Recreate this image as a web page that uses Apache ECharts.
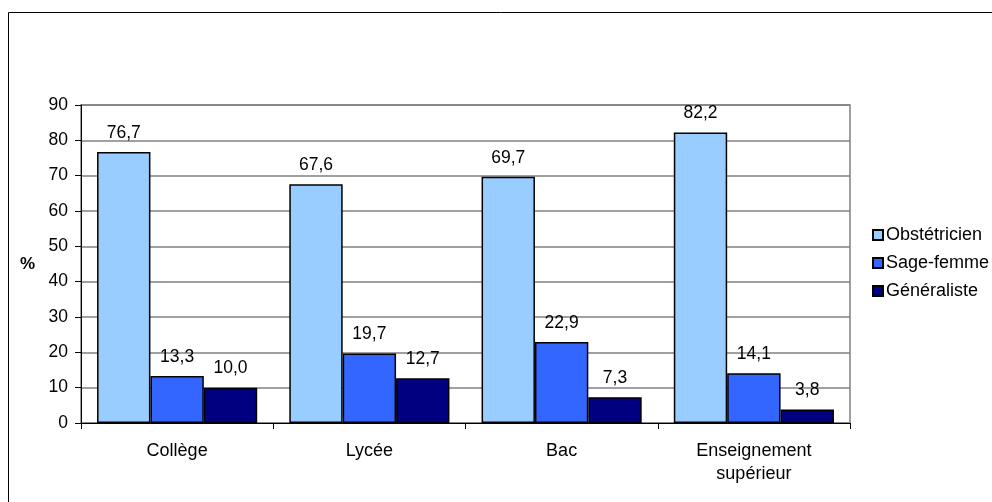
<!DOCTYPE html>
<html>
<head>
<meta charset="utf-8">
<script src="https://cdn.jsdelivr.net/npm/echarts@6/dist/echarts.min.js"></script>
<style>
html,body{margin:0;padding:0;background:#fff;}
#chart{width:992px;height:502px;}
</style>
</head>
<body>
<div id="chart"></div>
<script>
const categories = ['Collège', 'Lycée', 'Bac', 'Enseignement\nsupérieur'];
const seriesNames = ['Obstétricien', 'Sage-femme', 'Généraliste'];
const obstetricien = [76.7, 67.6, 69.7, 82.2];
const sageFemme = [13.3, 19.7, 22.9, 14.1];
const generaliste = [10.0, 12.7, 7.3, 3.8];
const yTicks = [0, 10, 20, 30, 40, 50, 60, 70, 80, 90];

const colors = ['#99CCFF', '#3366FF', '#000080'];
const font = 'Arial, "Liberation Sans", sans-serif';

const chart = echarts.init(document.getElementById('chart'));

function mkSeries(name, data, color) {
  return {
    name: name,
    type: 'bar',
    data: data,
    barGap: '0%',
    barCategoryGap: '16.7%',
    itemStyle: { color: color, borderColor: '#000', borderWidth: 1.5 },
    label: {
      show: true,
      position: 'top',
      distance: 10,
      color: '#000',
      fontSize: 17.5,
      fontFamily: font,
      formatter: p => p.value.toFixed(1).replace('.', ',')
    },
    emphasis: { disabled: true },
    animation: false
  };
}

chart.setOption({
  animation: false,
  graphic: [{
    type: 'rect',
    shape: { x: 8.5, y: 12.5, width: 1000, height: 520 },
    style: { fill: 'none', stroke: '#000', lineWidth: 1 },
    z: -1
  }, {
    type: 'text',
    left: 20,
    top: 256,
    style: { text: '%', font: 'bold 17px ' + font, fill: '#000' }
  }],
  grid: {
    left: 81, right: 142, top: 105, bottom: 79,
    show: true, borderColor: '#808080', borderWidth: 1.5, backgroundColor: '#fff'
  },
  legend: {
    orient: 'vertical',
    left: 872,
    top: 226,
    padding: 0,
    itemWidth: 10,
    itemHeight: 10,
    itemGap: 10,
    icon: 'rect',
    data: seriesNames,
    textStyle: { fontSize: 18, fontFamily: font, color: '#000', lineHeight: 18, padding: [0, 0, 0, -2] }
  },
  xAxis: {
    type: 'category',
    data: categories,
    axisLine: { lineStyle: { color: '#000', width: 1 } },
    axisTick: { show: true, length: 6, lineStyle: { color: '#000' } },
    axisLabel: { color: '#000', fontSize: 18, fontFamily: font, margin: 17, lineHeight: 23, interval: 0 }
  },
  yAxis: {
    type: 'value',
    min: 0, max: 90, interval: 10,
    axisLine: { show: true, lineStyle: { color: '#000', width: 1 } },
    axisTick: { show: true, length: 6, lineStyle: { color: '#000' } },
    axisLabel: { color: '#000', fontSize: 17.5, fontFamily: font, margin: 13,
      formatter: v => yTicks.indexOf(v) >= 0 ? String(v) : '' },
    splitLine: { show: true, lineStyle: { color: '#808080', width: 1.5 } }
  },
  series: [
    mkSeries(seriesNames[0], obstetricien, colors[0]),
    mkSeries(seriesNames[1], sageFemme, colors[1]),
    mkSeries(seriesNames[2], generaliste, colors[2])
  ]
});
</script>
</body>
</html>
